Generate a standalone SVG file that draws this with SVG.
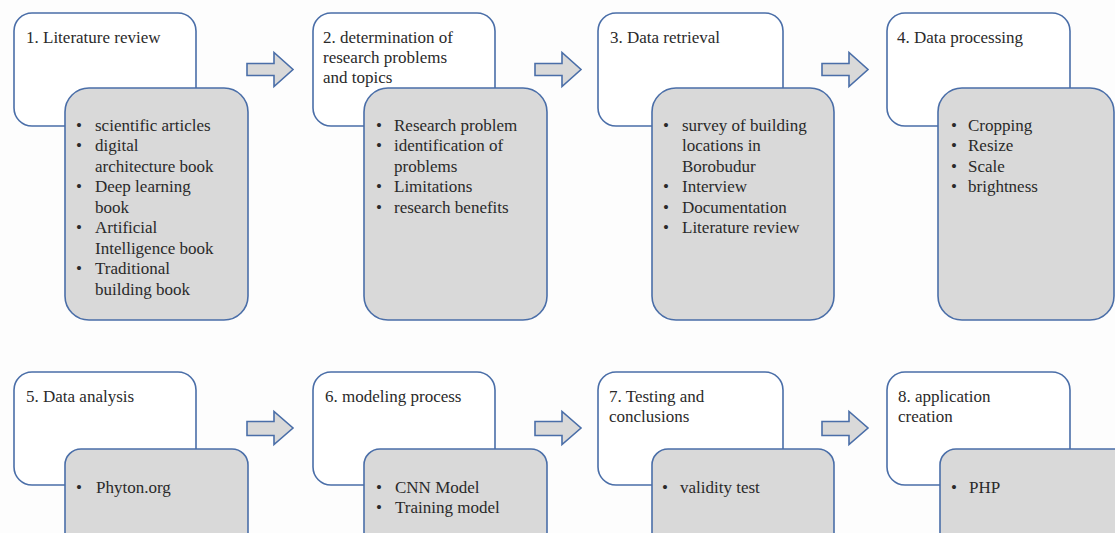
<svg xmlns="http://www.w3.org/2000/svg" width="1115" height="533" viewBox="0 0 1115 533">
<style>
.w{fill:#ffffff;stroke:#4a6ea8;stroke-width:1.6}
.g{fill:#d9d9d9;stroke:#4a6ea8;stroke-width:1.6}
.a{fill:#d9d9d9;stroke:#4a6ea8;stroke-width:1.6;stroke-linejoin:miter}
text{font-family:"Liberation Serif","Times New Roman",serif;font-size:17px;fill:#2a2a2a}
</style>
<rect width="1115" height="533" fill="#fdfdfd"/>
<g id="connectors">
<path class="a" d="M247,63.5H274V52.5L293,69.5L274,86.5V75.5H247Z"/>
<path class="a" d="M535,63.5H562V52.5L581,69.5L562,86.5V75.5H535Z"/>
<path class="a" d="M822,63.5H849V52.5L868,69.5L849,86.5V75.5H822Z"/>
<path class="a" d="M247,421.5H274V411.5L293,428L274,444.5V435.5H247Z"/>
<path class="a" d="M535,421.5H562V411.5L581,428L562,444.5V435.5H535Z"/>
<path class="a" d="M822,421.5H849V411.5L868,428L849,444.5V435.5H822Z"/>
</g>
<g id="node1">
<rect class="w" x="14" y="13" width="182" height="113" rx="18"/>
<rect class="g" x="65" y="88" width="183" height="232" rx="24"/>
<text x="26" y="43">1. Literature review</text>
<text x="76" y="131">•</text><text x="95" y="131">scientific articles</text>
<text x="76" y="151">•</text><text x="95" y="151">digital</text>
<text x="95" y="172">architecture book</text>
<text x="76" y="192">•</text><text x="95" y="192">Deep learning</text>
<text x="95" y="213">book</text>
<text x="76" y="233">•</text><text x="95" y="233">Artificial</text>
<text x="95" y="254">Intelligence book</text>
<text x="76" y="274">•</text><text x="95" y="274">Traditional</text>
<text x="95" y="295">building book</text>
</g>
<g id="node2">
<rect class="w" x="313" y="13" width="182" height="113" rx="18"/>
<rect class="g" x="364" y="88" width="183" height="232" rx="24"/>
<text x="323" y="43">2. determination of</text>
<text x="323" y="63">research problems</text>
<text x="323" y="83">and topics</text>
<text x="376" y="131">•</text><text x="394" y="131">Research problem</text>
<text x="376" y="151">•</text><text x="394" y="151">identification of</text>
<text x="394" y="172">problems</text>
<text x="376" y="192">•</text><text x="394" y="192">Limitations</text>
<text x="376" y="213">•</text><text x="394" y="213">research benefits</text>
</g>
<g id="node3">
<rect class="w" x="598" y="13" width="185" height="113" rx="18"/>
<rect class="g" x="652" y="88" width="182" height="232" rx="24"/>
<text x="610" y="43">3. Data retrieval</text>
<text x="663" y="131">•</text><text x="682" y="131">survey of building</text>
<text x="682" y="151">locations in</text>
<text x="682" y="172">Borobudur</text>
<text x="663" y="192">•</text><text x="682" y="192">Interview</text>
<text x="663" y="213">•</text><text x="682" y="213">Documentation</text>
<text x="663" y="233">•</text><text x="682" y="233">Literature review</text>
</g>
<g id="node4">
<rect class="w" x="887" y="13" width="183" height="113" rx="18"/>
<rect class="g" x="938" y="88" width="176" height="232" rx="24"/>
<text x="897" y="43">4. Data processing</text>
<text x="951" y="131">•</text><text x="968" y="131">Cropping</text>
<text x="951" y="151">•</text><text x="968" y="151">Resize</text>
<text x="951" y="172">•</text><text x="968" y="172">Scale</text>
<text x="951" y="192">•</text><text x="968" y="192">brightness</text>
</g>
<g id="node5">
<rect class="w" x="14" y="372" width="182" height="113" rx="18"/>
<rect class="g" x="65" y="449" width="183" height="100" rx="16"/>
<text x="26" y="402">5. Data analysis</text>
<text x="76" y="493">•</text><text x="96" y="493">Phyton.org</text>
</g>
<g id="node6">
<rect class="w" x="313" y="372" width="182" height="113" rx="18"/>
<rect class="g" x="364" y="449" width="183" height="100" rx="16"/>
<text x="325" y="402">6. modeling process</text>
<text x="376" y="493">•</text><text x="395" y="493">CNN Model</text>
<text x="376" y="513">•</text><text x="395" y="513">Training model</text>
</g>
<g id="node7">
<rect class="w" x="598" y="372" width="185" height="113" rx="18"/>
<rect class="g" x="652" y="449" width="182" height="100" rx="16"/>
<text x="609" y="402">7. Testing and</text>
<text x="609" y="422">conclusions</text>
<text x="662" y="493">•</text><text x="680" y="493">validity test</text>
</g>
<g id="node8">
<rect class="w" x="887" y="372" width="183" height="113" rx="18"/>
<rect class="g" x="940" y="449" width="190" height="100" rx="16"/>
<text x="898" y="402">8. application</text>
<text x="898" y="422">creation</text>
<text x="951" y="493">•</text><text x="969" y="493">PHP</text>
</g>
</svg>
